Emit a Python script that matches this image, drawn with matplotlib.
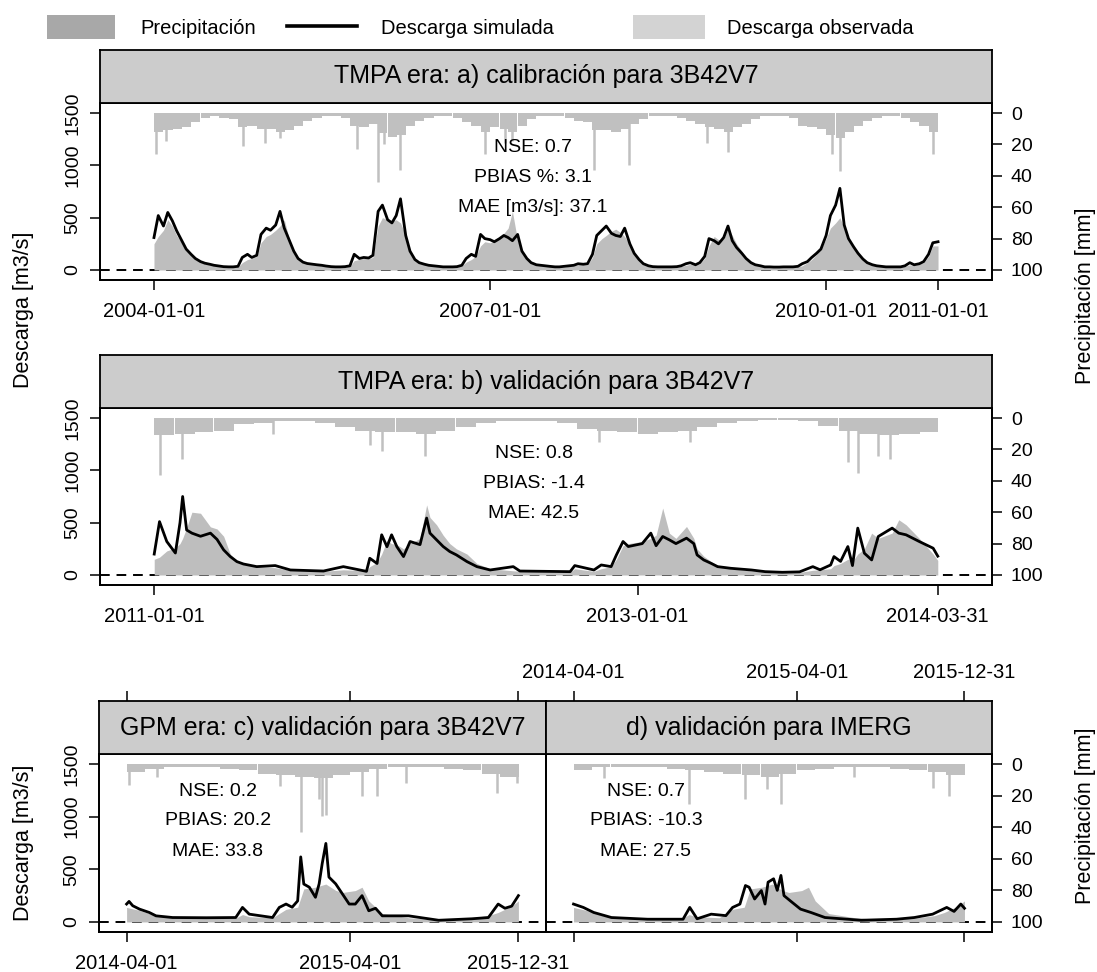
import numpy as np
import pandas as pd
import matplotlib
matplotlib.use('Agg')
import matplotlib.pyplot as plt
import matplotlib.dates as mdates
from matplotlib.lines import Line2D
from matplotlib.patches import Rectangle

plt.rcParams['font.family'] = ['Liberation Sans', 'DejaVu Sans']

# ---------------- data ----------------
# panel a: semi-monthly discharge (1st and 15th of each month), m3/s
sim_a_2004 = [310, 520, 420, 550, 470, 375, 280, 200, 150, 110, 80, 65, 55, 45, 38, 32, 30, 30, 35, 120, 150, 120, 140, 340]
obs_a_2004 = [250, 320, 380, 480, 420, 330, 260, 190, 140, 100, 75, 60, 50, 42, 35, 30, 28, 28, 30, 70, 100, 110, 130, 260]
sim_a_2005 = [400, 380, 430, 560, 400, 300, 180, 110, 75, 62, 55, 50, 45, 38, 32, 30, 30, 32, 40, 150, 110, 120, 115, 140]
obs_a_2005 = [320, 340, 380, 420, 480, 320, 180, 110, 80, 65, 55, 50, 42, 36, 30, 28, 28, 30, 35, 90, 100, 110, 110, 120]
sim_a_2006 = [560, 620, 480, 450, 520, 680, 330, 180, 100, 70, 55, 45, 40, 35, 30, 30, 30, 32, 45, 110, 150, 130, 340, 300]
obs_a_2006 = [420, 500, 480, 470, 480, 450, 330, 190, 110, 75, 55, 45, 38, 32, 30, 28, 28, 30, 40, 75, 100, 130, 230, 270]
sim_a_2007 = [290, 270, 300, 330, 310, 280, 340, 180, 110, 70, 50, 45, 40, 35, 30, 30, 35, 40, 45, 60, 55, 60, 150, 330]
obs_a_2007 = [260, 280, 310, 350, 400, 560, 280, 180, 110, 70, 50, 45, 40, 35, 30, 28, 30, 35, 40, 50, 50, 50, 120, 250]
sim_a_2008 = [380, 420, 350, 330, 320, 400, 250, 160, 100, 60, 40, 32, 30, 30, 30, 30, 32, 40, 60, 70, 50, 70, 130, 300]
obs_a_2008 = [300, 330, 370, 390, 360, 320, 240, 160, 100, 60, 40, 32, 30, 28, 28, 28, 30, 35, 45, 55, 45, 60, 110, 230]
sim_a_2009 = [280, 250, 310, 420, 280, 215, 160, 110, 70, 50, 40, 30, 30, 28, 28, 30, 30, 30, 35, 60, 80, 120, 160, 200]
obs_a_2009 = [320, 290, 300, 400, 330, 250, 180, 120, 80, 50, 40, 30, 30, 28, 28, 28, 28, 30, 30, 40, 70, 100, 150, 200]
sim_a_2010 = [330, 520, 620, 780, 430, 300, 220, 160, 105, 70, 50, 40, 35, 30, 30, 30, 30, 40, 70, 50, 60, 80, 150, 260]
obs_a_2010 = [300, 400, 450, 500, 400, 300, 230, 170, 110, 75, 50, 40, 35, 30, 30, 30, 30, 35, 50, 45, 55, 70, 130, 230]
sim_a_end = [270]   # 2011-01-01
obs_a_end = [230]

# panel a: monthly precipitation envelope (mm) and isolated storms
prec_a_2004 = [12, 11, 10, 9, 6, 3, 2, 3, 4, 9, 8, 10]
prec_a_2005 = [10, 12, 11, 8, 5, 3, 2, 2, 3, 8, 9, 7]
prec_a_2006 = [13, 15, 14, 8, 5, 3, 2, 2, 3, 6, 8, 12]
prec_a_2007 = [9, 10, 12, 8, 4, 2, 2, 2, 3, 5, 6, 11]
prec_a_2008 = [11, 12, 10, 7, 4, 2, 2, 2, 3, 5, 7, 9]
prec_a_2009 = [10, 12, 9, 7, 4, 2, 2, 2, 3, 8, 9, 10]
prec_a_2010 = [14, 16, 12, 8, 5, 3, 2, 2, 3, 6, 8, 12]
storm_a_dates = ['2004-01-06', '2004-02-10', '2004-10-17', '2004-12-28', '2005-02-15', '2005-10-23',
                 '2006-01-01', '2006-01-20', '2006-03-13', '2006-12-15', '2007-02-20', '2007-03-15',
                 '2007-12-06', '2008-03-28', '2008-12-09', '2009-02-15', '2010-01-20', '2010-02-15',
                 '2010-12-16']
storm_a = [26, 18, 21, 19, 16, 23, 44, 20, 36, 26, 19, 18, 36, 33, 19, 25, 26, 37, 26]

# panel b: discharge breakpoints
t_b = ['2011-01-01', '2011-01-09', '2011-01-20', '2011-02-02', '2011-02-09', '2011-02-13', '2011-02-19',
       '2011-02-27', '2011-03-12', '2011-03-27', '2011-04-06', '2011-04-16', '2011-04-26', '2011-05-06',
       '2011-05-16', '2011-06-05', '2011-07-03', '2011-07-26', '2011-09-14', '2011-10-14', '2011-11-18',
       '2011-11-23', '2011-12-04', '2011-12-11', '2011-12-19', '2011-12-26', '2012-01-03', '2012-01-13',
       '2012-01-23', '2012-02-07', '2012-02-17', '2012-02-22', '2012-03-03', '2012-03-13', '2012-03-23',
       '2012-04-02', '2012-04-18', '2012-05-03', '2012-05-23', '2012-06-27', '2012-07-07', '2012-09-21',
       '2012-09-28', '2012-10-27', '2012-11-07', '2012-11-22', '2012-11-30', '2012-12-10', '2012-12-18',
       '2013-01-08', '2013-01-21', '2013-01-29', '2013-02-08', '2013-02-18', '2013-02-28', '2013-03-16',
       '2013-03-27', '2013-04-01', '2013-04-11', '2013-04-22', '2013-05-02', '2013-05-22', '2013-06-22',
       '2013-07-13', '2013-08-08', '2013-09-03', '2013-09-23', '2013-10-04', '2013-10-20', '2013-10-25',
       '2013-11-04', '2013-11-15', '2013-11-22', '2013-11-30', '2013-12-10', '2013-12-21', '2013-12-31',
       '2014-01-21', '2014-01-31', '2014-02-11', '2014-03-03', '2014-03-24', '2014-03-31']
sim_b = [200, 510, 320, 210, 500, 750, 430, 400, 370, 400, 340, 240, 176, 128, 105, 80, 90, 48, 38, 80,
         35, 160, 110, 384, 270, 384, 270, 176, 320, 290, 544, 400, 336, 272, 224, 192, 128, 80, 48, 80,
         38, 32, 90, 48, 96, 80, 192, 320, 272, 300, 400, 280, 368, 336, 300, 352, 300, 192, 144, 112,
         80, 64, 48, 32, 26, 30, 80, 50, 96, 176, 130, 272, 90, 448, 208, 144, 368, 448, 400, 384,
         320, 256, 180]
obs_b = [150, 170, 230, 260, 300, 350, 450, 600, 590, 460, 440, 370, 200, 140, 110, 80, 70, 45, 35, 50,
         40, 80, 120, 200, 330, 300, 290, 250, 300, 350, 670, 550, 480, 380, 300, 250, 200, 110, 60, 40,
         35, 28, 60, 35, 60, 80, 150, 280, 300, 320, 350, 380, 640, 400, 350, 464, 350, 250, 180, 130,
         90, 60, 40, 28, 22, 25, 45, 50, 60, 90, 110, 150, 130, 200, 250, 400, 350, 400, 528, 480,
         350, 200, 140]
prec_b = [11, 10, 9, 8, 4, 3, 2, 2, 3, 6, 8, 9,
          9, 10, 8, 6, 3, 2, 2, 2, 3, 7, 8, 9,
          10, 9, 8, 6, 3, 2, 1, 1, 2, 5, 8, 10,
          11, 10, 9]
storm_b_dates = ['2011-01-09', '2011-02-12', '2011-06-30', '2011-11-23', '2011-12-11', '2012-02-15',
                 '2012-11-04', '2013-03-21', '2013-11-15', '2013-12-01', '2013-12-31', '2014-01-17']
storm_b = [36, 26, 10, 17, 21, 24, 15, 15, 28, 35, 24, 26]

# panels c, d (same observed discharge)
t_obs_cd = ['2014-04-01', '2014-04-22', '2014-05-19', '2014-06-15', '2014-08-09', '2014-09-26', '2014-10-07',
            '2014-10-18', '2014-11-25', '2014-12-17', '2015-01-05', '2015-01-15', '2015-02-03', '2015-02-20',
            '2015-03-08', '2015-03-19', '2015-04-09', '2015-04-20', '2015-05-01', '2015-05-23', '2015-07-05',
            '2015-08-23', '2015-10-16', '2015-11-12', '2015-11-28', '2015-12-20', '2015-12-31']
obs_cd = [138, 110, 60, 40, 35, 35, 70, 50, 40, 120, 140, 314, 330, 360, 300, 280, 298, 330, 200, 80,
          40, 20, 40, 60, 90, 150, 200]
t_sim_c = ['2014-04-01', '2014-04-05', '2014-04-11', '2014-04-22', '2014-05-08', '2014-05-19', '2014-06-15',
           '2014-08-09', '2014-09-26', '2014-10-07', '2014-10-18', '2014-11-25', '2014-12-06', '2014-12-17',
           '2014-12-27', '2015-01-05', '2015-01-10', '2015-01-15', '2015-01-24', '2015-02-03', '2015-02-09',
           '2015-02-14', '2015-02-20', '2015-02-25', '2015-03-08', '2015-03-19', '2015-03-30', '2015-04-09',
           '2015-04-20', '2015-05-01', '2015-05-12', '2015-05-23', '2015-07-05', '2015-08-23', '2015-10-16',
           '2015-11-12', '2015-11-28', '2015-12-09', '2015-12-20', '2015-12-31']
sim_c = [170, 195, 154, 122, 90, 58, 42, 40, 42, 138, 74, 42, 138, 170, 140, 200, 618, 360, 330, 234,
         362, 554, 746, 426, 362, 266, 170, 170, 250, 106, 130, 58, 58, 16, 30, 42, 170, 130, 150, 250]
t_sim_d = ['2014-04-01', '2014-04-17', '2014-05-04', '2014-06-02', '2014-07-31', '2014-09-27', '2014-10-08',
           '2014-10-20', '2014-11-12', '2014-12-06', '2014-12-17', '2014-12-29', '2015-01-07', '2015-01-13',
           '2015-01-22', '2015-02-02', '2015-02-08', '2015-02-13', '2015-02-22', '2015-02-28', '2015-03-06',
           '2015-03-11', '2015-03-21', '2015-04-07', '2015-04-24', '2015-05-17', '2015-07-15', '2015-09-11',
           '2015-10-10', '2015-11-09', '2015-12-02', '2015-12-14', '2015-12-25', '2015-12-31']
sim_d = [170, 138, 90, 42, 26, 26, 138, 30, 74, 60, 138, 170, 346, 330, 218, 298, 170, 378, 410, 300,
         442, 250, 202, 122, 90, 42, 16, 26, 42, 74, 138, 100, 170, 130]
prec_c = [5, 3, 2, 2, 2, 3, 4, 6, 7, 8, 9, 7, 5, 3, 2, 2, 2, 3, 4, 6, 8]
prec_d = [4, 2, 2, 2, 2, 3, 4, 5, 6, 7, 8, 6, 4, 3, 2, 2, 2, 3, 4, 5, 7]
storm_c_dates = ['2014-04-05', '2014-05-20', '2014-12-08', '2015-01-10', '2015-02-09', '2015-02-14',
                 '2015-02-20', '2015-04-20', '2015-05-15', '2015-07-01', '2015-11-26', '2015-12-28']
storm_c = [13, 8, 14, 43, 22, 33, 32, 20, 20, 12, 18, 12]
storm_d_dates = ['2014-05-21', '2014-10-06', '2015-01-07', '2015-02-11', '2015-03-06', '2015-07-03',
                 '2015-11-09', '2015-12-05']
storm_d = [9, 25, 22, 16, 25, 8, 15, 20]

stats_a = ['NSE: 0.7', 'PBIAS %: 3.1', 'MAE [m3/s]: 37.1']
stats_b = ['NSE: 0.8', 'PBIAS: -1.4', 'MAE: 42.5']
stats_c = ['NSE: 0.2', 'PBIAS: 20.2', 'MAE: 33.8']
stats_d = ['NSE: 0.7', 'PBIAS: -10.3', 'MAE: 27.5']

ticks_a = ['2004-01-01', '2007-01-01', '2010-01-01', '2011-01-01']
ticks_b = ['2011-01-01', '2013-01-01', '2014-03-31']
ticks_cd = ['2014-04-01', '2015-04-01', '2015-12-31']

# ---------------- figure ----------------
W, H = 1097, 972
fig = plt.figure(figsize=(W / 100, H / 100), dpi=100)


def rect(x0, y0, x1, y1):
    return [x0 / W, 1 - y1 / H, (x1 - x0) / W, (y1 - y0) / H]


def dn(dates):
    return mdates.date2num(pd.to_datetime(dates))


OBS = '#BEBEBE'
PRE = '#C0C0C0'
FS = 14.5


def panel(box, t_obs, q_obs, t_sim, q_sim, prec_start, prec, st_dates, st, x0, x1, pad,
          left=True, right=True, xt=None, xlab=True):
    ax = fig.add_axes(box)
    ax.set_xlim(dn([x0])[0] - pad, dn([x1])[0] + pad)
    ax.set_ylim(-95.5, 1595.5)
    ax.axhline(0, color='black', ls=(0, (5, 3.5)), lw=1.4, zorder=1)
    ax.fill_between(dn(t_obs), 0, q_obs, color=OBS, lw=0, zorder=2)
    ax.plot(dn(t_sim), q_sim, color='black', lw=2.0, zorder=3)
    ax2 = ax.twinx()
    ax2.set_ylim(106.4, -6.4)
    months = dn(pd.date_range(prec_start, periods=len(prec), freq='MS'))
    ax2.bar(months, prec, width=30.4, align='edge', color=PRE, lw=0)
    ax2.vlines(dn(st_dates), 0, st, color=PRE, lw=1.8)
    for a in (ax, ax2):
        for s in a.spines.values():
            s.set_linewidth(1.3)
        a.tick_params(direction='out', length=7.5, width=1.1, labelsize=FS, pad=6)
    if left:
        ax.set_yticks([0, 500, 1000, 1500])
        ax.set_yticklabels(['0', '500', '1000', '1500'], rotation=90, va='center', fontsize=14)
    else:
        ax.set_yticks([])
    if right:
        ax2.set_yticks([0, 20, 40, 60, 80, 100])
        ax2.set_yticklabels(['0', '20', '40', '60', '80', '100'], fontsize=14)
    else:
        ax2.set_yticks([])
    ax.set_xticks(dn(xt))
    ax.set_xticklabels(xt if xlab else [''] * len(xt))
    ax.tick_params(axis='x', pad=8)
    return ax


def strip(box, label, xlim=None, xt=None, xlab=False):
    s = fig.add_axes(box)
    s.set_facecolor('#CCCCCC')
    s.set_yticks([])
    for sp in s.spines.values():
        sp.set_linewidth(1.3)
    s.text(0.5, 0.5, label, transform=s.transAxes, ha='center', va='center', fontsize=18)
    if xt is None:
        s.set_xticks([])
    else:
        s.set_xlim(xlim)
        s.xaxis.tick_top()
        s.set_xticks(dn(xt))
        s.set_xticklabels(xt if xlab else [''] * len(xt))
        s.tick_params(axis='x', direction='out', length=7.5, width=1.1, labelsize=FS, pad=6)
    return s


# panel a
sim_a = sim_a_2004 + sim_a_2005 + sim_a_2006 + sim_a_2007 + sim_a_2008 + sim_a_2009 + sim_a_2010 + sim_a_end
obs_a = obs_a_2004 + obs_a_2005 + obs_a_2006 + obs_a_2007 + obs_a_2008 + obs_a_2009 + obs_a_2010 + obs_a_end
t_a = list(pd.date_range('2004-01-01', periods=168, freq='SMS')) + [pd.Timestamp('2011-01-01')]
prec_a = prec_a_2004 + prec_a_2005 + prec_a_2006 + prec_a_2007 + prec_a_2008 + prec_a_2009 + prec_a_2010

panel(rect(100, 103, 992, 280), t_a, obs_a, t_a, sim_a, '2004-01-01', prec_a, storm_a_dates, storm_a,
      '2004-01-01', '2011-01-01', 176, xt=ticks_a)
strip(rect(100, 50, 992, 103), 'TMPA era: a) calibración para 3B42V7')

# panel b
panel(rect(100, 408, 992, 585), t_b, obs_b, t_b, sim_b, '2011-01-01', prec_b, storm_b_dates, storm_b,
      '2011-01-01', '2014-03-31', 82, xt=ticks_b)
strip(rect(100, 355, 992, 408), 'TMPA era: b) validación para 3B42V7')

# panels c, d
ac = panel(rect(99, 754, 546, 932), t_obs_cd, obs_cd, t_sim_c, sim_c, '2014-04-01', prec_c,
           storm_c_dates, storm_c, '2014-04-01', '2015-12-31', 45, right=False, xt=ticks_cd)
ad = panel(rect(546, 754, 992, 932), t_obs_cd, obs_cd, t_sim_d, sim_d, '2014-04-01', prec_d,
           storm_d_dates, storm_d, '2014-04-01', '2015-12-31', 45, left=False, xt=ticks_cd, xlab=False)
strip(rect(99, 701, 546, 754), 'GPM era: c) validación para 3B42V7', ac.get_xlim(), ticks_cd, False)
strip(rect(546, 701, 992, 754), 'd) validación para IMERG', ad.get_xlim(), ticks_cd, True)

# statistics
for lines, xc, ys in [(stats_a, 533, [148, 178, 207]), (stats_b, 534, [453, 483, 513]),
                      (stats_c, 218, [791, 820, 851]), (stats_d, 646, [791, 820, 851])]:
    for txt, yy in zip(lines, ys):
        fig.text(xc / W, 1 - yy / H, txt, ha='center', va='center', fontsize=14)

# axis titles
fig.text(24 / W, 1 - 310 / H, 'Descarga [m3/s]', rotation=90, ha='center', va='center', fontsize=15.5)
fig.text(24 / W, 1 - 843 / H, 'Descarga [m3/s]', rotation=90, ha='center', va='center', fontsize=15.5)
fig.text(1085 / W, 1 - 296 / H, 'Precipitación [mm]', rotation=90, ha='center', va='center', fontsize=15.5)
fig.text(1085 / W, 1 - 816 / H, 'Precipitación [mm]', rotation=90, ha='center', va='center', fontsize=15.5)

# legend
fig.patches.append(Rectangle((47 / W, 1 - 39 / H), 68 / W, 24 / H, transform=fig.transFigure,
                             facecolor='#A8A8A8', edgecolor='none'))
fig.text(140 / W, 1 - 28 / H, 'Precipitación', va='center', fontsize=FS)
fig.add_artist(Line2D([287 / W, 357 / W], [1 - 26 / H, 1 - 26 / H], color='black', lw=2.6,
                      transform=fig.transFigure))
fig.text(381 / W, 1 - 28 / H, 'Descarga simulada', va='center', fontsize=FS)
fig.patches.append(Rectangle((633 / W, 1 - 39 / H), 72 / W, 24 / H, transform=fig.transFigure,
                             facecolor='#D3D3D3', edgecolor='none'))
fig.text(727 / W, 1 - 28 / H, 'Descarga observada', va='center', fontsize=FS)

fig.savefig('out.png', dpi=100)
